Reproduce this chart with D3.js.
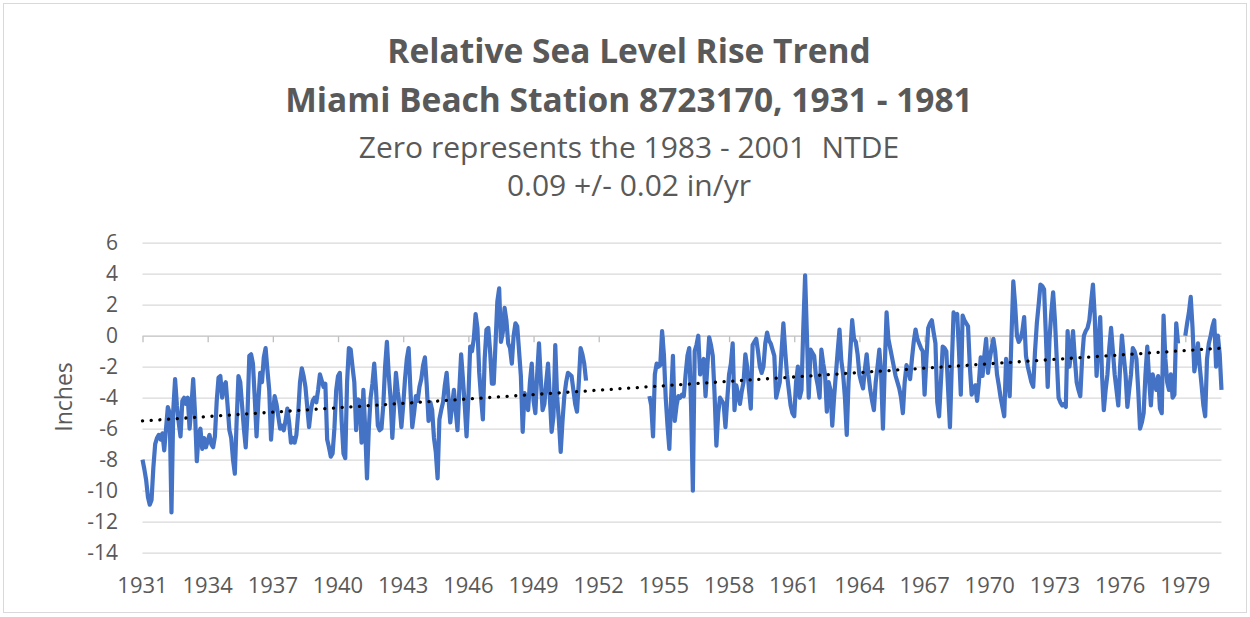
<!DOCTYPE html>
<html>
<head>
<meta charset="utf-8">
<script src="https://cdn.jsdelivr.net/npm/d3@7"></script>
<style>
  body { margin: 0; background: #fff; }
  text { font-family: "Open Sans", sans-serif; fill: #595959; white-space: pre; }
</style>
</head>
<body>
<script>
  var width = 1250,
      height = 617;

  // monthly relative sea level (inches), Jan 1931 - Jun 1951
  var levels1931 = [
    -8.0, -8.6, -9.3, -10.4, -10.9, -10.6, -8.5, -7.0, -6.6, -6.4, -6.7, -6.3,
    -7.4, -6.0, -4.6, -5.0, -11.4, -4.8, -2.8, -4.5, -5.6, -6.5, -4.2, -4.0,
    -4.4, -4.0, -6.0, -4.6, -2.8, -5.0, -8.1, -6.4, -6.0, -7.3, -6.6, -7.2,
    -6.8, -6.4, -7.0, -7.2, -6.5, -4.2, -2.7, -2.6, -4.0, -3.2, -3.0, -4.5,
    -6.1, -6.6, -8.0, -8.9, -5.5, -2.6, -3.0, -4.5, -6.0, -7.2, -5.0, -1.3,
    -1.2, -1.8, -4.0, -6.5, -4.2, -2.4, -3.0, -1.4, -0.8, -2.2, -3.5, -6.7,
    -5.0, -3.9, -4.4, -5.2, -6.0, -5.8, -6.1, -5.5, -4.7, -5.6, -6.9, -6.6,
    -6.9, -6.4, -5.0, -3.0, -2.1, -2.6, -3.3, -4.6, -5.9, -4.8, -4.2, -4.0,
    -4.3, -3.5, -2.5, -2.9, -3.3, -3.1, -6.7, -7.2, -7.8, -7.6, -6.0, -3.5,
    -2.6, -2.4, -5.5, -7.6, -7.9, -3.0, -0.8, -0.9, -2.0, -3.0, -6.1, -4.1,
    -4.2, -6.9, -3.5, -6.0, -9.2, -6.0, -4.0, -3.1, -1.8, -3.5, -5.8, -6.1,
    -6.0, -4.5, -2.0, -0.4, -2.5, -4.0, -6.6, -4.5, -2.4, -3.6, -4.5, -5.9,
    -4.5, -2.8, -1.5, -0.8, -3.5, -5.9, -5.0, -3.9, -4.2, -3.3, -2.8, -1.9,
    -1.4, -3.2, -5.5, -4.3, -4.8, -6.6, -7.5, -9.2, -5.4, -4.8, -4.3, -3.2,
    -2.4, -4.0, -5.6, -4.5, -3.5, -4.8, -6.1, -3.5, -1.2, -2.8, -4.5, -6.5,
    -4.0, -0.7, -1.0, -0.2, 1.4, 0.5, -2.4, -4.0, -5.4, -1.5, 0.4, 0.5,
    -1.0, -3.1, -3.1, -0.5, 2.2, 3.05, -0.4, 0.2, 1.8, 1.0, -0.5, -0.8,
    -1.8, 0.0, 0.8, 0.6, -1.0, -2.6, -6.2, -3.7, -4.0, -4.8, -3.0, -1.8,
    -4.2, -5.0, -2.5, -0.5, -2.8, -4.8, -4.4, -3.0, -1.8, -4.0, -6.2, -5.2,
    -0.6, -3.9, -5.5, -7.5, -5.5, -3.9, -3.0, -2.4, -2.5, -2.6, -3.5, -4.4,
    -4.9, -3.0, -0.8, -1.2, -1.8, -2.9
  ];

  // monthly relative sea level (inches), May 1954 - Sep 1980, null = no reading
  var levels1954 = [
    -3.9, -4.5, -6.5, -2.5, -1.8, -2.0, -1.9, 0.3,
    -1.2, -4.0, -5.8, -7.3, -4.0, -1.3, -5.5, -4.5, -3.9, -4.0, -3.8, -3.9,
    -2.5, -1.3, -0.8, -4.5, -10.0, -1.0, -0.6, 0.0, -2.5, -2.0, -1.5, -3.9,
    -2.0, -0.1, -0.6, -1.3, -3.8, -7.1, -5.0, -4.0, -4.2, -4.4, -5.9, -4.1,
    -2.5, -1.8, -0.5, -4.8, -3.2, -3.8, -4.4, -3.6, -3.0, -1.2, -2.0, -3.5,
    -4.7, -0.6, -0.4, -0.2, -1.0, -2.0, -2.4, -2.0, -0.5, 0.2, -0.3, -0.5,
    -0.9, -1.3, -4.0, -3.5, -3.0, -1.0, 0.8, -1.0, -2.5, -3.5, -4.5, -5.0,
    -5.2, -3.0, -2.0, -4.0, -3.5, 0.5, 3.9, 0.0, -4.0, -0.9, -1.1, -1.3,
    -2.6, -3.2, -4.0, -0.9, -1.8, -2.5, -4.9, -3.0, -3.5, -5.8, -4.0, -2.5,
    -1.0, 0.4, -1.6, -2.5, -4.0, -6.4, -3.0, -1.0, 1.0, -0.2, -0.4, -1.2,
    -2.5, -3.0, -3.4, -2.2, -1.2, -2.5, -3.5, -4.2, -4.8, -3.0, -2.0, -0.9,
    -2.5, -6.0, -2.0, 1.5, -0.2, -0.8, -1.4, -2.0, -2.6, -3.0, -3.4, -4.0,
    -5.0, -3.0, -1.9, -2.2, -2.8, -1.5, -0.4, 0.4, -0.2, -0.5, -0.8, -1.0,
    -3.8, -1.5, 0.5, 0.8, 1.0, 0.2, -0.5, -4.3, -5.2, -3.0, -0.7, -0.8,
    -1.0, -3.5, -5.9, -2.0, 1.5, 1.3, 1.4, -1.0, -3.8, 1.3, 1.0, 0.8,
    0.6, -2.0, -3.8, -3.5, -3.2, -4.2, -3.0, -1.4, -2.6, -1.3, -0.2, -2.4,
    -1.5, -0.8, -0.2, -1.0, -2.5, -3.2, -4.0, -4.6, -5.2, -1.5, -2.5, -3.9,
    0.0, 3.5, 2.0, 0.0, -0.4, -0.2, 0.3, 1.2, -1.3, -2.0, -2.5, -3.0,
    -3.3, -1.0, 0.8, 2.0, 3.3, 3.2, 3.0, 0.0, -3.3, -0.2, 1.5, 2.8,
    1.0, -1.5, -4.0, -4.3, -4.5, -4.4, -4.6, 0.3, -2.0, -1.0, 0.3, -1.5,
    -3.0, -3.5, -3.9, -1.5, 0.0, 0.3, 0.5, 1.0, 2.2, 3.3, 1.2, -2.6,
    -0.5, 1.2, -2.5, -4.8, -3.5, -2.5, -0.8, 0.5, -1.0, -2.5, -3.5, -4.5,
    -2.0, 0.0, -1.3, -2.5, -4.6, -3.5, -2.5, -0.8, -1.0, -1.5, -3.5, -6.0,
    -5.6, -5.0, -2.5, -0.7, -2.8, -4.5, -2.5, -3.0, -3.5, -2.6, -4.7, -5.0,
    1.3, -1.5, -3.0, -3.5, -2.5, -4.0, -3.8, 0.8, -0.5, null, null, null,
    0.0, 0.8, 1.5, 2.5, 0.5, -2.3, -1.5, -0.5, -2.0, -3.2, -4.5, -5.2,
    -1.5, -0.5, 0.0, 0.6, 1.0, -2.0, 0.0, -1.2, -3.5
  ];

  // months counted from Jan 1931
  var start1931 = 0,
      start1954 = 280;

  // dotted linear trend, value at first and last month
  var trendEnds = [-5.5, -0.8];

  var tickYears = [1931, 1934, 1937, 1940, 1943, 1946, 1949, 1952, 1955,
                   1958, 1961, 1964, 1967, 1970, 1973, 1976, 1979];
  var yTicks = [6, 4, 2, 0, -2, -4, -6, -8, -10, -12, -14];

  var titleLines = ["Relative Sea Level Rise Trend", "Miami Beach Station 8723170, 1931 - 1981"];
  var subtitleLines = ["Zero represents the 1983 - 2001  NTDE", "0.09 +/- 0.02 in/yr"];

  // one series with a break between the two runs
  var series = [];
  levels1931.forEach(function(v, i) { series.push({m: start1931 + i, v: v}); });
  series.push({m: start1931 + levels1931.length, v: null});
  levels1954.forEach(function(v, i) { series.push({m: start1954 + i, v: v}); });
  var lastMonth = start1954 + levels1954.length - 1;

  var x = d3.scaleLinear().domain([0, lastMonth]).range([142.5, 1221.5]);
  var y = d3.scaleLinear().domain([-14, 6]).range([552.7, 242.7]);

  var svg = d3.select("body").append("svg")
      .attr("width", width)
      .attr("height", height);

  // frame
  svg.append("rect")
      .attr("x", 3.5).attr("y", 3.5)
      .attr("width", width - 7).attr("height", height - 8)
      .attr("fill", "none")
      .attr("stroke", "#d9d9d9");

  // titles
  var titleY = [63, 112];
  svg.selectAll(".title").data(titleLines).enter().append("text")
      .attr("class", "title")
      .attr("x", 629).attr("y", function(d, i) { return titleY[i]; })
      .attr("text-anchor", "middle")
      .style("font-size", "33.5px")
      .style("font-weight", "bold")
      .text(function(d) { return d; });

  var subY = [158, 196];
  svg.selectAll(".subtitle").data(subtitleLines).enter().append("text")
      .attr("class", "subtitle")
      .attr("x", 629).attr("y", function(d, i) { return subY[i]; })
      .attr("text-anchor", "middle")
      .style("font-size", "30px")
      .text(function(d) { return d; });

  // gridlines
  svg.append("g")
    .selectAll("line").data(yTicks.filter(function(d) { return d !== 0; })).enter().append("line")
      .attr("x1", x(0)).attr("x2", x(lastMonth))
      .attr("y1", function(d) { return y(d) + 0.5; })
      .attr("y2", function(d) { return y(d) + 0.5; })
      .attr("stroke", "#d9d9d9")
      .attr("stroke-width", 1.3);

  // y tick labels
  svg.append("g")
    .selectAll("text").data(yTicks).enter().append("text")
      .attr("x", 118)
      .attr("y", function(d) { return y(d); })
      .attr("dy", "0.36em")
      .attr("text-anchor", "end")
      .style("font-size", "21px")
      .text(function(d) { return d; });

  // category axis sits on zero
  var xAxis = d3.axisBottom(x)
      .tickValues(tickYears.map(function(yr) { return (yr - 1931) * 12; }))
      .tickSize(6)
      .tickFormat("");
  var axisG = svg.append("g")
      .attr("transform", "translate(0," + (y(0) + 0.5) + ")")
      .call(xAxis);
  axisG.select(".domain").attr("stroke", "#bfbfbf").attr("stroke-width", 1.3)
      .attr("d", "M" + x(0) + ",0H" + x(lastMonth));
  axisG.selectAll(".tick line").attr("stroke", "#bfbfbf").attr("stroke-width", 1.3);

  // x labels along the bottom
  svg.append("g")
    .selectAll("text").data(tickYears).enter().append("text")
      .attr("x", function(d) { return x((d - 1931) * 12); })
      .attr("y", 593)
      .attr("text-anchor", "middle")
      .style("font-size", "22px")
      .text(function(d) { return d; });

  // y title
  svg.append("text")
      .attr("transform", "translate(72,397) rotate(-90)")
      .attr("text-anchor", "middle")
      .style("font-size", "23px")
      .text("Inches");

  // data line
  var line = d3.line()
      .defined(function(d) { return d.v !== null; })
      .x(function(d) { return x(d.m); })
      .y(function(d) { return y(d.v); });

  svg.append("path")
      .datum(series)
      .attr("fill", "none")
      .attr("stroke", "#4472c4")
      .attr("stroke-width", 4.2)
      .attr("stroke-linejoin", "round")
      .attr("d", line);

  // trend
  var trend = [{m: 0, v: trendEnds[0]}, {m: lastMonth, v: trendEnds[1]}];
  svg.append("path")
      .datum(trend)
      .attr("fill", "none")
      .attr("stroke", "#000")
      .attr("stroke-width", 3.3)
      .attr("stroke-linecap", "round")
      .attr("stroke-dasharray", "0.1 8.6")
      .attr("d", d3.line().x(function(d) { return x(d.m); }).y(function(d) { return y(d.v); }));
</script>
</body>
</html>
